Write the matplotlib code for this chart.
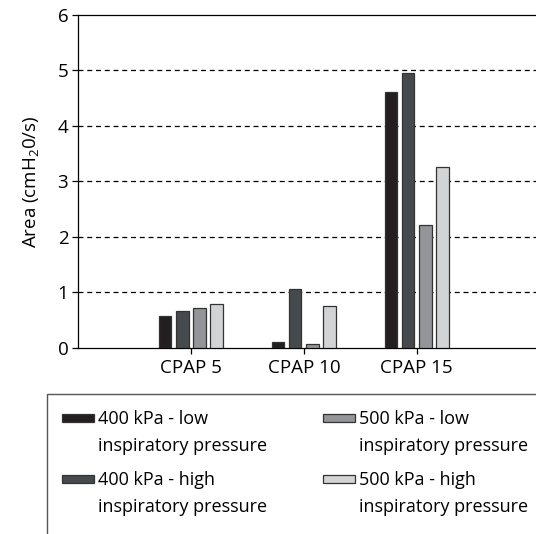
import matplotlib
matplotlib.use("Agg")
import matplotlib.pyplot as plt
from matplotlib.patches import Rectangle
import numpy as np

plt.rcParams['font.family'] = ['Open Sans', 'DejaVu Sans']
plt.rcParams['mathtext.default'] = 'regular'

categories = ["CPAP 5", "CPAP 10", "CPAP 15"]
series_labels = ["400 kPa - low\ninspiratory pressure",
                 "400 kPa - high\ninspiratory pressure",
                 "500 kPa - low\ninspiratory pressure",
                 "500 kPa - high\ninspiratory pressure"]
s400_low = [0.57, 0.10, 4.62]
s400_high = [0.67, 1.05, 4.96]
s500_low = [0.71, 0.06, 2.21]
s500_high = [0.79, 0.75, 3.25]
colors = ["#231f20", "#474a4c", "#939598", "#d1d3d4"]
yticks = [0, 1, 2, 3, 4, 5, 6]

series = [s400_low, s400_high, s500_low, s500_high]

W, H = 536, 534
fig = plt.figure(figsize=(W/100, H/100), dpi=100)
ax = fig.add_axes([78/W, 1-347.7/H, 1-78/W, (347.7-15)/H])

x = np.arange(1, len(categories)+1)
pitch = 0.152
width = 0.11
for i, (vals, c) in enumerate(zip(series, colors)):
    ax.bar(x + (i-1.5)*pitch, vals, width=width, color=c, edgecolor="#333333",
           linewidth=0.9, zorder=3)

ax.set_xlim(0, 4.056)
ax.set_ylim(0, 6)
ax.set_yticks(yticks)
ax.set_xticks(x)
ax.set_xticklabels(categories)
for yv in yticks[1:-1]:
    ax.axhline(yv, color="black", linestyle=(0, (4, 3)), linewidth=0.9, zorder=1)
ax.tick_params(axis='both', labelsize=13.5, length=4, width=0.9, color="black")
ax.tick_params(axis='x', pad=4)
ax.tick_params(axis='y', pad=3)
for s in ax.spines.values():
    s.set_linewidth(0.9)
ax.spines['right'].set_visible(False)
ax.set_ylabel(r"Area (cmH$_2$0/s)", fontsize=13.5, labelpad=12)

# Legend (manual layout so each patch aligns with the first line of its label)
fig.patches.append(Rectangle((47/W, -0.05), 1.0, (1-394/H)+0.05,
                             transform=fig.transFigure, fill=False,
                             edgecolor="#555555", linewidth=1.0))
pos = [(62, 424), (62, 485), (323, 424), (323, 485)]
for i, (px, py) in enumerate(pos):
    fig.patches.append(Rectangle((px/W, 1-(py-2)/H), 32/W, 8/H,
                                 transform=fig.transFigure, facecolor=colors[i],
                                 edgecolor="#333333", linewidth=0.9))
    l1, l2 = series_labels[i].split("\n")
    fig.text((px+36)/W, 1-py/H, l1, fontsize=13, va='baseline', ha='left')
    fig.text((px+36)/W, 1-(py+27)/H, l2, fontsize=13, va='baseline', ha='left')

fig.savefig("out.png", dpi=100)
